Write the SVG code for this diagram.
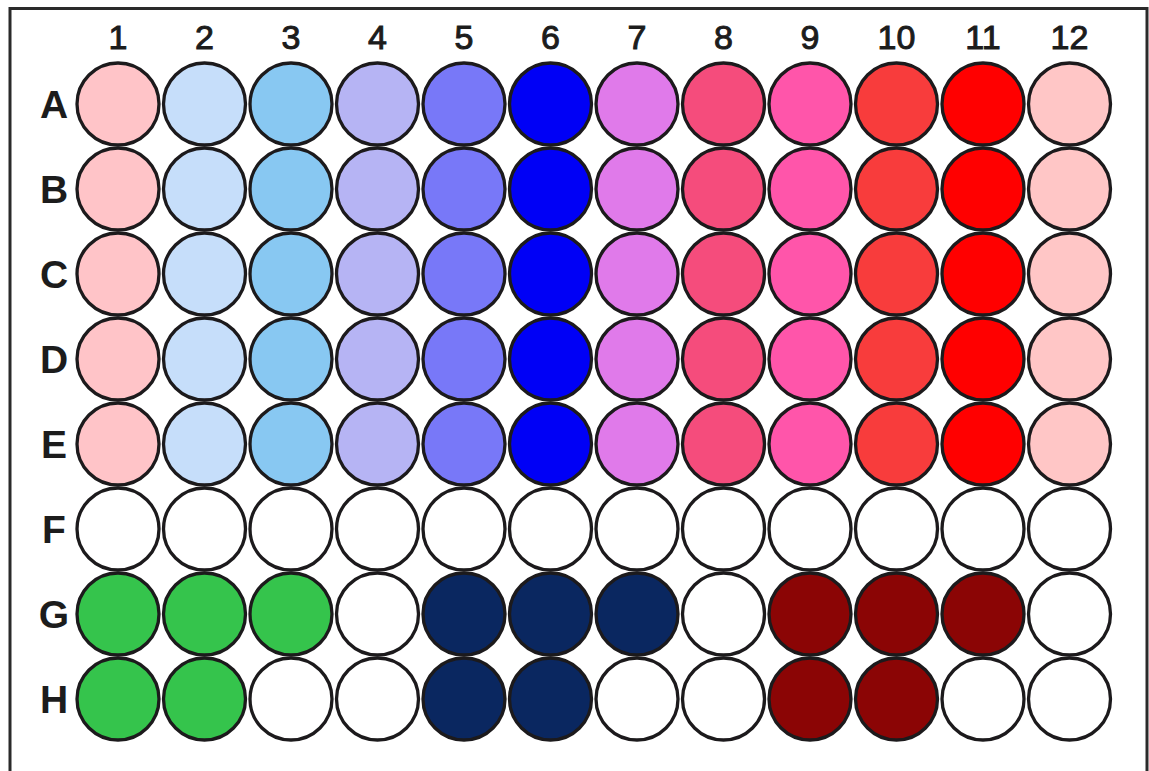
<svg xmlns="http://www.w3.org/2000/svg" width="1149" height="771" viewBox="0 0 1149 771">
<style>
.w{stroke:#1c1a1c;stroke-width:3.3}
.col{font-family:"Liberation Sans",Arial,sans-serif;font-size:34px;fill:#1c1c1c;text-anchor:middle;stroke:#1c1c1c;stroke-width:1}
.row{font-family:"Liberation Sans",Arial,sans-serif;font-size:39px;font-weight:bold;fill:#1c1c1c;text-anchor:middle}
.c1{fill:#FFC4C8}.c2{fill:#C6DEFA}.c3{fill:#88C8F2}.c4{fill:#B6B4F4}.c5{fill:#7878F8}.c6{fill:#0000F6}.c7{fill:#E07AEA}.c8{fill:#F54C7C}.c9{fill:#FF55AA}.c10{fill:#F83C3C}.c11{fill:#FF0000}.c12{fill:#FFC6C6}
.e{fill:#FFFFFF}.g{fill:#35C44C}.n{fill:#0A2760}.r{fill:#8B0505}
</style>
<rect x="0" y="0" width="1149" height="771" fill="#FFFFFF"/>
<rect x="10" y="8.5" width="1137" height="770" fill="none" stroke="#2a2a2a" stroke-width="3"/>
<g id="colLabels">
<text class="col" x="118" y="49">1</text>
<text class="col" x="204.5" y="49">2</text>
<text class="col" x="291" y="49">3</text>
<text class="col" x="377.5" y="49">4</text>
<text class="col" x="464" y="49">5</text>
<text class="col" x="550.5" y="49">6</text>
<text class="col" x="637" y="49">7</text>
<text class="col" x="723.5" y="49">8</text>
<text class="col" x="810" y="49">9</text>
<text class="col" x="896.5" y="49">10</text>
<text class="col" x="983" y="49">11</text>
<text class="col" x="1069.5" y="49">12</text>
</g>
<g id="rowLabels">
<text class="row" x="54" y="118">A</text>
<text class="row" x="54" y="203">B</text>
<text class="row" x="54" y="288">C</text>
<text class="row" x="54" y="373">D</text>
<text class="row" x="54" y="458">E</text>
<text class="row" x="54" y="543">F</text>
<text class="row" x="54" y="628">G</text>
<text class="row" x="54" y="713">H</text>
</g>
<g id="rowA">
<circle class="w c1" cx="118" cy="104" r="41"/><circle class="w c2" cx="204.5" cy="104" r="41"/><circle class="w c3" cx="291" cy="104" r="41"/><circle class="w c4" cx="377.5" cy="104" r="41"/><circle class="w c5" cx="464" cy="104" r="41"/><circle class="w c6" cx="550.5" cy="104" r="41"/><circle class="w c7" cx="637" cy="104" r="41"/><circle class="w c8" cx="723.5" cy="104" r="41"/><circle class="w c9" cx="810" cy="104" r="41"/><circle class="w c10" cx="896.5" cy="104" r="41"/><circle class="w c11" cx="983" cy="104" r="41"/><circle class="w c12" cx="1069.5" cy="104" r="41"/>
</g>
<g id="rowB">
<circle class="w c1" cx="118" cy="189" r="41"/><circle class="w c2" cx="204.5" cy="189" r="41"/><circle class="w c3" cx="291" cy="189" r="41"/><circle class="w c4" cx="377.5" cy="189" r="41"/><circle class="w c5" cx="464" cy="189" r="41"/><circle class="w c6" cx="550.5" cy="189" r="41"/><circle class="w c7" cx="637" cy="189" r="41"/><circle class="w c8" cx="723.5" cy="189" r="41"/><circle class="w c9" cx="810" cy="189" r="41"/><circle class="w c10" cx="896.5" cy="189" r="41"/><circle class="w c11" cx="983" cy="189" r="41"/><circle class="w c12" cx="1069.5" cy="189" r="41"/>
</g>
<g id="rowC">
<circle class="w c1" cx="118" cy="274" r="41"/><circle class="w c2" cx="204.5" cy="274" r="41"/><circle class="w c3" cx="291" cy="274" r="41"/><circle class="w c4" cx="377.5" cy="274" r="41"/><circle class="w c5" cx="464" cy="274" r="41"/><circle class="w c6" cx="550.5" cy="274" r="41"/><circle class="w c7" cx="637" cy="274" r="41"/><circle class="w c8" cx="723.5" cy="274" r="41"/><circle class="w c9" cx="810" cy="274" r="41"/><circle class="w c10" cx="896.5" cy="274" r="41"/><circle class="w c11" cx="983" cy="274" r="41"/><circle class="w c12" cx="1069.5" cy="274" r="41"/>
</g>
<g id="rowD">
<circle class="w c1" cx="118" cy="359" r="41"/><circle class="w c2" cx="204.5" cy="359" r="41"/><circle class="w c3" cx="291" cy="359" r="41"/><circle class="w c4" cx="377.5" cy="359" r="41"/><circle class="w c5" cx="464" cy="359" r="41"/><circle class="w c6" cx="550.5" cy="359" r="41"/><circle class="w c7" cx="637" cy="359" r="41"/><circle class="w c8" cx="723.5" cy="359" r="41"/><circle class="w c9" cx="810" cy="359" r="41"/><circle class="w c10" cx="896.5" cy="359" r="41"/><circle class="w c11" cx="983" cy="359" r="41"/><circle class="w c12" cx="1069.5" cy="359" r="41"/>
</g>
<g id="rowE">
<circle class="w c1" cx="118" cy="444" r="41"/><circle class="w c2" cx="204.5" cy="444" r="41"/><circle class="w c3" cx="291" cy="444" r="41"/><circle class="w c4" cx="377.5" cy="444" r="41"/><circle class="w c5" cx="464" cy="444" r="41"/><circle class="w c6" cx="550.5" cy="444" r="41"/><circle class="w c7" cx="637" cy="444" r="41"/><circle class="w c8" cx="723.5" cy="444" r="41"/><circle class="w c9" cx="810" cy="444" r="41"/><circle class="w c10" cx="896.5" cy="444" r="41"/><circle class="w c11" cx="983" cy="444" r="41"/><circle class="w c12" cx="1069.5" cy="444" r="41"/>
</g>
<g id="rowF">
<circle class="w e" cx="118" cy="529" r="41"/><circle class="w e" cx="204.5" cy="529" r="41"/><circle class="w e" cx="291" cy="529" r="41"/><circle class="w e" cx="377.5" cy="529" r="41"/><circle class="w e" cx="464" cy="529" r="41"/><circle class="w e" cx="550.5" cy="529" r="41"/><circle class="w e" cx="637" cy="529" r="41"/><circle class="w e" cx="723.5" cy="529" r="41"/><circle class="w e" cx="810" cy="529" r="41"/><circle class="w e" cx="896.5" cy="529" r="41"/><circle class="w e" cx="983" cy="529" r="41"/><circle class="w e" cx="1069.5" cy="529" r="41"/>
</g>
<g id="rowG">
<circle class="w g" cx="118" cy="614" r="41"/><circle class="w g" cx="204.5" cy="614" r="41"/><circle class="w g" cx="291" cy="614" r="41"/><circle class="w e" cx="377.5" cy="614" r="41"/><circle class="w n" cx="464" cy="614" r="41"/><circle class="w n" cx="550.5" cy="614" r="41"/><circle class="w n" cx="637" cy="614" r="41"/><circle class="w e" cx="723.5" cy="614" r="41"/><circle class="w r" cx="810" cy="614" r="41"/><circle class="w r" cx="896.5" cy="614" r="41"/><circle class="w r" cx="983" cy="614" r="41"/><circle class="w e" cx="1069.5" cy="614" r="41"/>
</g>
<g id="rowH">
<circle class="w g" cx="118" cy="699" r="41"/><circle class="w g" cx="204.5" cy="699" r="41"/><circle class="w e" cx="291" cy="699" r="41"/><circle class="w e" cx="377.5" cy="699" r="41"/><circle class="w n" cx="464" cy="699" r="41"/><circle class="w n" cx="550.5" cy="699" r="41"/><circle class="w e" cx="637" cy="699" r="41"/><circle class="w e" cx="723.5" cy="699" r="41"/><circle class="w r" cx="810" cy="699" r="41"/><circle class="w r" cx="896.5" cy="699" r="41"/><circle class="w e" cx="983" cy="699" r="41"/><circle class="w e" cx="1069.5" cy="699" r="41"/>
</g>
</svg>
